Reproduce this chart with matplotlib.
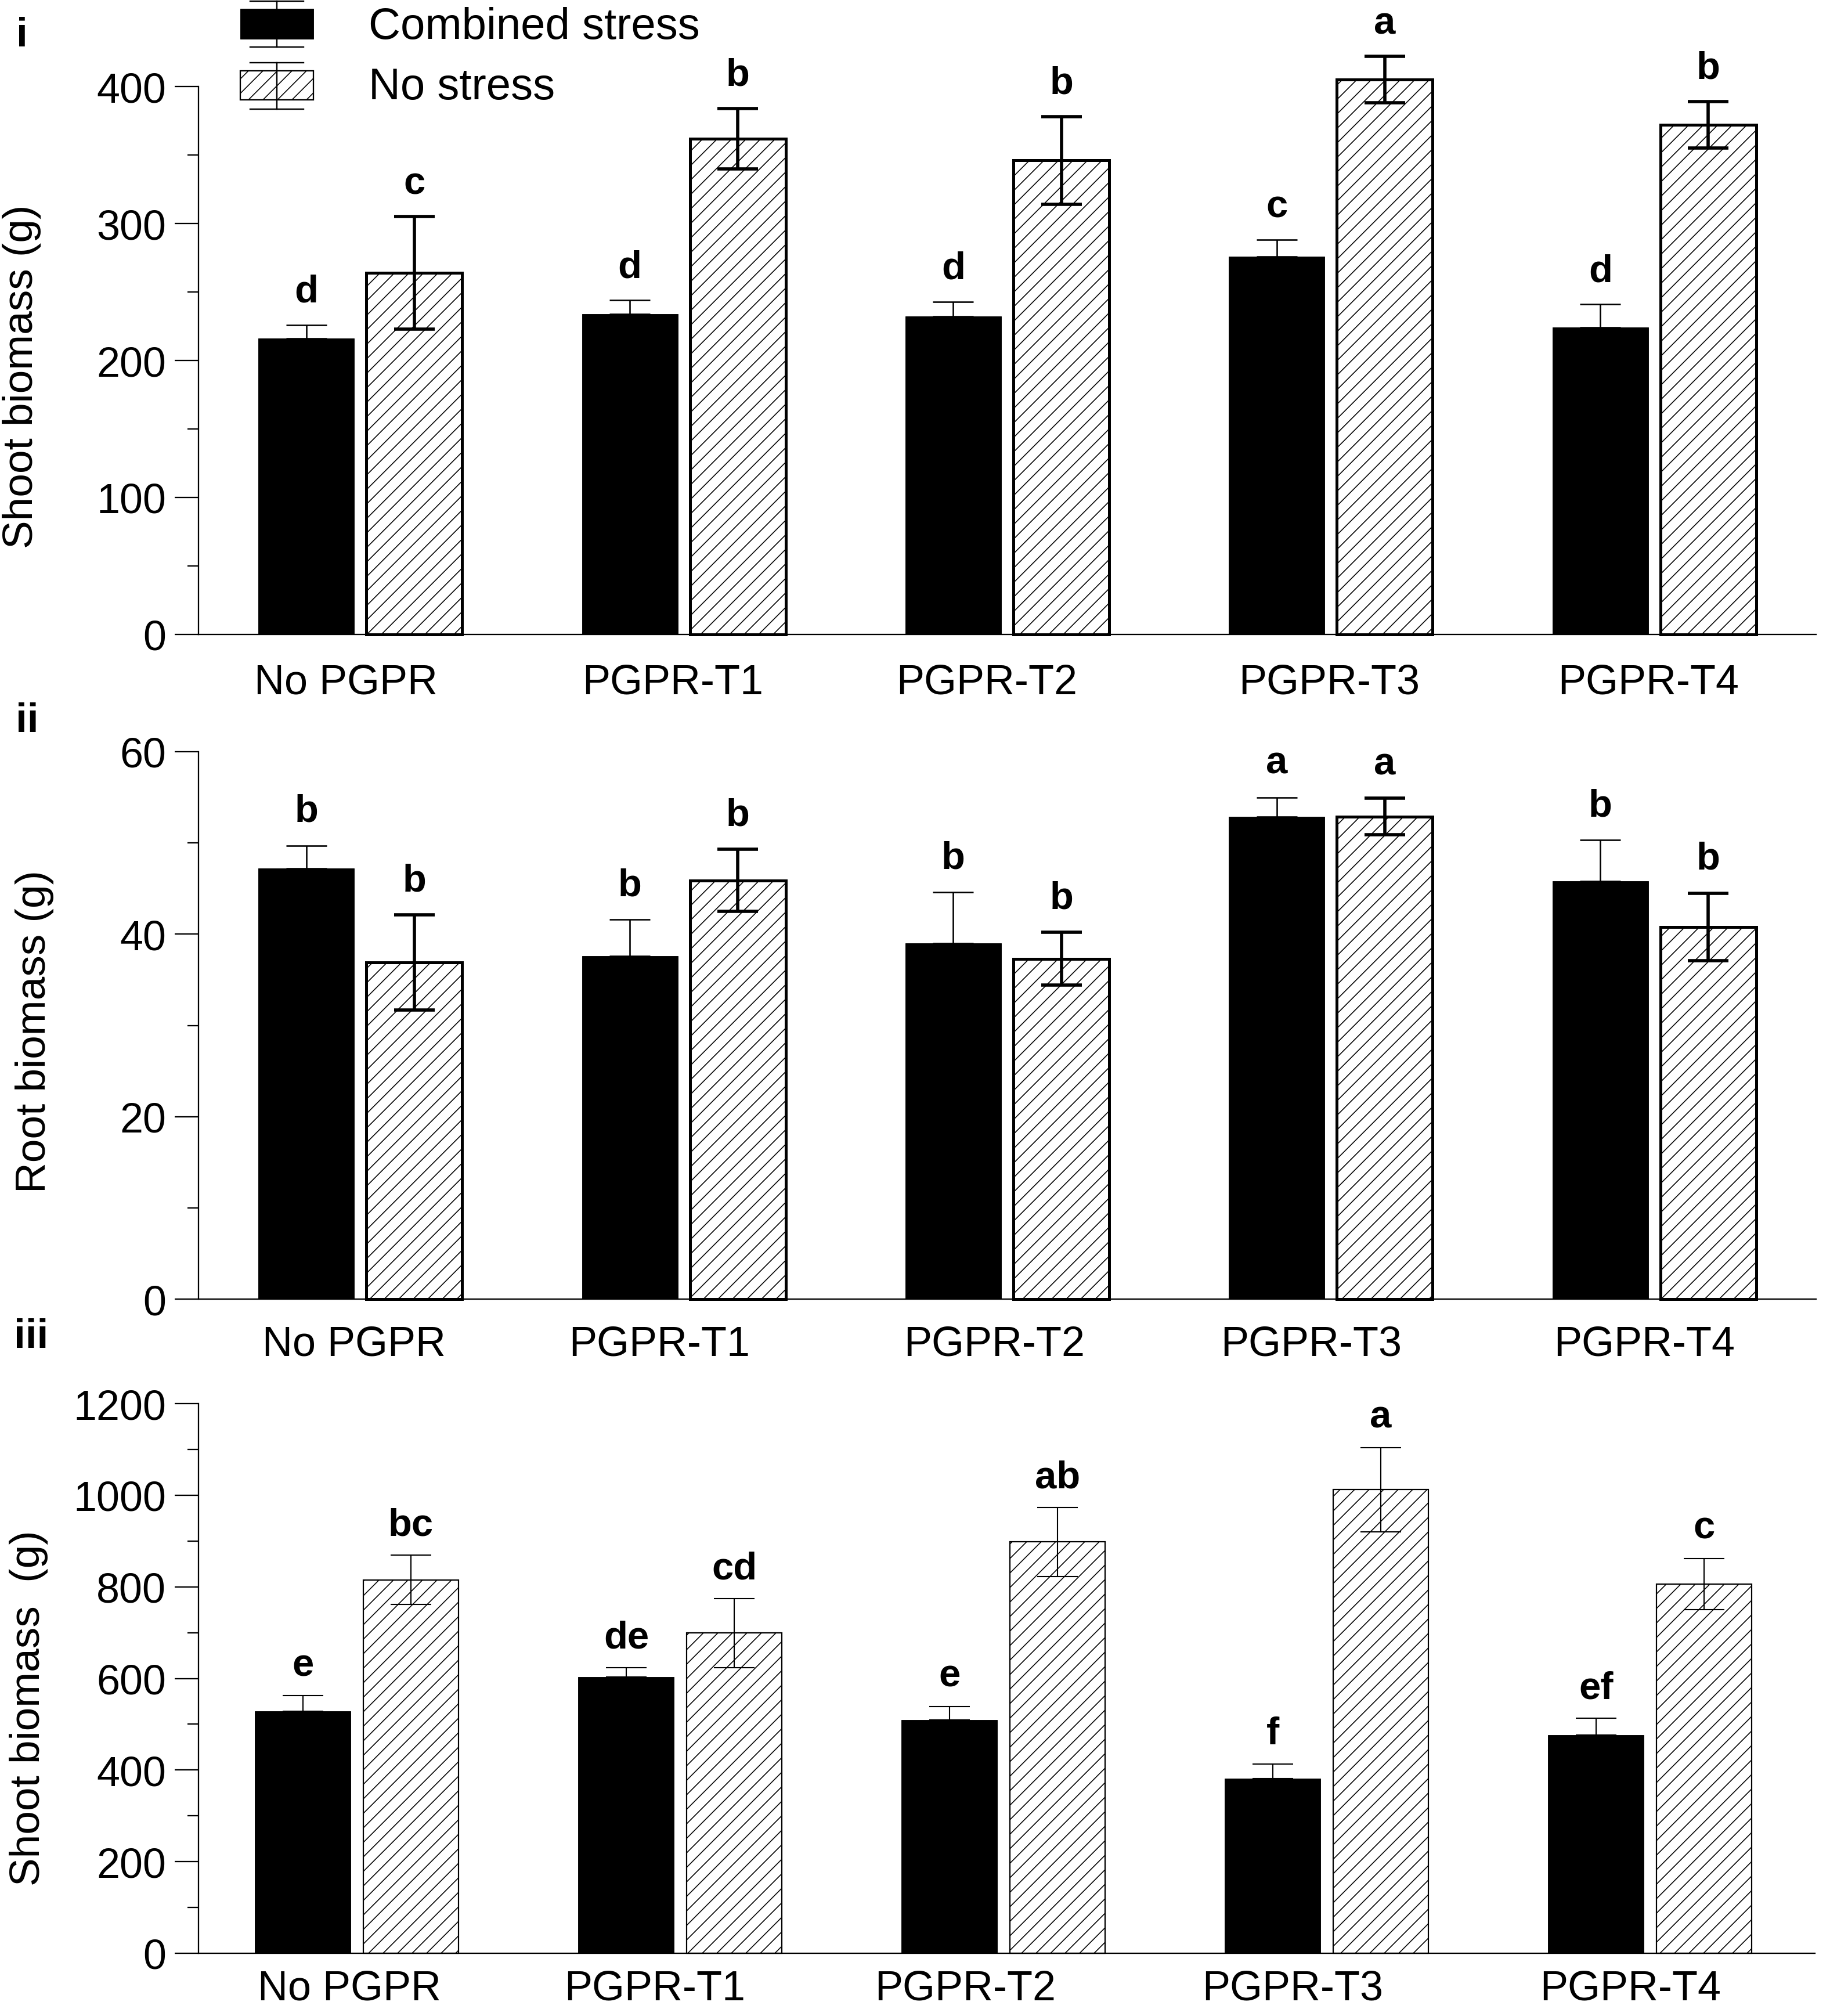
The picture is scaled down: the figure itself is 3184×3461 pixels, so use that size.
import numpy as np
import matplotlib
matplotlib.use('Agg')
import matplotlib.pyplot as plt
from matplotlib.patches import Rectangle
from matplotlib.lines import Line2D
from matplotlib.ticker import MultipleLocator
from matplotlib.transforms import ScaledTranslation

groups = ['No PGPR', 'PGPR-T1', 'PGPR-T2', 'PGPR-T3', 'PGPR-T4']
legend_labels = ['Combined stress', 'No stress']

# panel i - shoot biomass
shoot1_stress = [216, 234, 232, 276, 224]
shoot1_stress_err = [10, 10, 11, 12, 17]
shoot1_nostress = [264, 362, 346, 405, 372]
shoot1_nostress_err = [41, 22, 32, 17, 17]
shoot1_stress_letters = ['d', 'd', 'd', 'c', 'd']
shoot1_nostress_letters = ['c', 'b', 'b', 'a', 'b']

# panel ii - root biomass
root_stress = [47.2, 37.6, 39.0, 52.9, 45.8]
root_stress_err = [2.5, 4.0, 5.6, 2.1, 4.5]
root_nostress = [36.9, 45.9, 37.3, 52.9, 40.8]
root_nostress_err = [5.2, 3.4, 2.9, 2.0, 3.7]
root_stress_letters = ['b', 'b', 'b', 'a', 'b']
root_nostress_letters = ['b', 'b', 'b', 'a', 'b']

# panel iii - shoot biomass
shoot3_stress = [529, 603, 509, 381, 477]
shoot3_stress_err = [33, 20, 30, 32, 36]
shoot3_nostress = [815, 699, 898, 1012, 806]
shoot3_nostress_err = [54, 75, 75, 92, 56]
shoot3_stress_letters = ['e', 'de', 'e', 'f', 'ef']
shoot3_nostress_letters = ['bc', 'cd', 'ab', 'a', 'c']

# figure geometry, everything below is measured in pixels
W, H, DPI = 3184, 3462, 150
PT = 72.0 / DPI  # points per pixel

plt.rcParams['font.family'] = ['Liberation Sans', 'DejaVu Sans']
plt.rcParams['hatch.linewidth'] = 1.6 * PT


def fx(px):
    return px / W


def fy(py):
    return 1 - py / H


fig = plt.figure(figsize=(W / DPI, H / DPI), dpi=DPI)


def draw_panel(box, xlim, ymax, major, minor, stress, stress_err, nostress, nostress_err,
               s_letters, n_letters, ylabel, ylabel_pos, tag, tag_pos, label_pad, label_dx,
               heavy, letter_gap):
    left, top, right, bottom = box
    ax = fig.add_axes([fx(left), fy(bottom), fx(right - left), (bottom - top) / H])
    x = np.arange(len(groups))
    width, off = 0.296, 0.167

    edge_lw = (5.0 if heavy else 2.2) * PT
    elw_black = (2.6 if heavy else 2.1) * PT
    elw_hatch = (5.6 if heavy else 2.1) * PT

    ax.bar(x - off, stress, width, color='black', edgecolor='black', linewidth=0.9 * PT,
           clip_on=False, zorder=2)
    ax.bar(x + off, nostress, width, facecolor='white', edgecolor='black', hatch='//',
           linewidth=edge_lw, clip_on=False, zorder=2)

    eb1 = ax.errorbar(x - off, stress, yerr=[np.zeros(len(stress)), stress_err], fmt='none',
                      ecolor='black', elinewidth=elw_black, capsize=35 * PT, capthick=elw_black,
                      zorder=3)
    eb2 = ax.errorbar(x + off, nostress, yerr=nostress_err, fmt='none', ecolor='black',
                      elinewidth=elw_hatch, capsize=35 * PT, capthick=elw_hatch, zorder=3)
    for eb in (eb1, eb2):
        for art in list(eb.lines[1]) + list(eb.lines[2]):
            art.set_clip_on(False)

    # significance letters
    for xs, vals, errs, letters in ((x - off, stress, stress_err, s_letters),
                                    (x + off, nostress, nostress_err, n_letters)):
        for xi, v, e, t in zip(xs, vals, errs, letters):
            ax.annotate(t, (xi, v + e), xytext=(0, letter_gap * PT), textcoords='offset points',
                        ha='center', va='baseline', fontsize=67 * PT, fontweight='bold',
                        annotation_clip=False)

    ax.set_xlim(*xlim)
    ax.set_ylim(0, ymax)
    ax.yaxis.set_major_locator(MultipleLocator(major))
    ax.yaxis.set_minor_locator(MultipleLocator(minor))
    ax.set_xticks(x, groups)

    for side in ('top', 'right'):
        ax.spines[side].set_visible(False)
    for side in ('left', 'bottom'):
        ax.spines[side].set_linewidth(2.3 * PT)

    ax.tick_params(axis='y', which='major', length=41 * PT, width=2.3 * PT, pad=15 * PT,
                   labelsize=72 * PT, direction='out')
    ax.tick_params(axis='y', which='minor', length=19 * PT, width=2.3 * PT, direction='out')
    ax.tick_params(axis='x', length=0, pad=label_pad * PT, labelsize=72 * PT)

    for lab, dx in zip(ax.xaxis.get_majorticklabels(), label_dx):
        lab.set_transform(lab.get_transform() + ScaledTranslation(dx / DPI, 0, fig.dpi_scale_trans))

    fig.text(fx(ylabel_pos[0]), fy(ylabel_pos[1]), ylabel, rotation=90, ha='center',
             va='center', fontsize=73 * PT)
    fig.text(fx(tag_pos[0]), fy(tag_pos[1]), tag, ha='left', va='baseline', fontsize=71 * PT,
             fontweight='bold')
    return ax


draw_panel((342, 150, 3129, 1094), (-0.5, 4.5), 400, 100, 50,
           shoot1_stress, shoot1_stress_err, shoot1_nostress, shoot1_nostress_err,
           shoot1_stress_letters, shoot1_nostress_letters,
           'Shoot biomass (g)', (38, 649), 'i', (28, 80), 49,
           [-25, -19, -35, -3, -10], True, 40)

draw_panel((342, 1296, 3129, 2239), (-0.5, 4.5), 60, 20, 10,
           root_stress, root_stress_err, root_nostress, root_nostress_err,
           root_stress_letters, root_nostress_letters,
           'Root biomass (g)', (60, 1777), 'ii', (27, 1261), 44,
           [-11, -42, -22, -34, -17], True, 42)

draw_panel((342, 2419, 3127, 3366), (-0.49, 4.51), 1200, 200, 100,
           shoot3_stress, shoot3_stress_err, shoot3_nostress, shoot3_nostress_err,
           shoot3_stress_letters, shoot3_nostress_letters,
           'Shoot biomass  (g)', (50, 2943), 'iii', (24, 2322), 28,
           [-13, -44, -66, -59, -34], False, 35)

# legend drawn by hand, GraphPad style with whiskers through the boxes
legend_boxes = [(16, 68, 3, 82, 67), (123, 173, 109, 189, 171)]
styles = [dict(facecolor='black', edgecolor='black', linewidth=0.9 * PT),
          dict(facecolor='white', edgecolor='black', hatch='//', linewidth=2.3 * PT)]
for (btop, bbot, ctop, cbot, base), style, text in zip(legend_boxes, styles, legend_labels):
    fig.add_artist(Rectangle((fx(414), fy(bbot)), fx(126), (bbot - btop) / H,
                             transform=fig.transFigure, **style))
    fig.add_artist(Line2D([fx(477), fx(477)], [fy(ctop), fy(cbot)], color='black',
                          linewidth=2.4 * PT, transform=fig.transFigure))
    for cy in (ctop, cbot):
        fig.add_artist(Line2D([fx(431), fx(523)], [fy(cy), fy(cy)], color='black',
                              linewidth=2.4 * PT, transform=fig.transFigure))
    fig.text(fx(635), fy(base), text, ha='left', va='baseline', fontsize=76 * PT)

fig.savefig('out.png', dpi=DPI)
